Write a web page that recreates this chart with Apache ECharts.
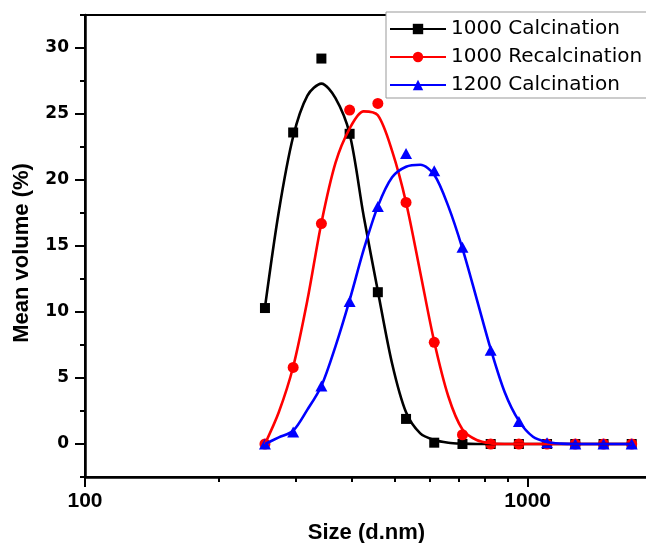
<!DOCTYPE html>
<html>
<head>
<meta charset="utf-8">
<script src="https://cdn.jsdelivr.net/npm/echarts@6/dist/echarts.min.js"></script>
<style>
html, body { margin: 0; padding: 0; background: #ffffff; }
#chart { width: 646px; height: 543px; }
</style>
</head>
<body>
<div id="chart"></div>
<script>
// ---- data ----
const seriesNames = ['1000 Calcination', '1000 Recalcination', '1200 Calcination'];

// measured size bins (d.nm)
const sizeBins = [255, 295.3, 342, 396.1, 458.7, 531.2, 615.1, 712.4, 825, 955.4, 1106, 1281, 1484, 1718];
const calc1000Points   = [10.3, 23.6, 29.2, 23.5, 11.5, 1.9, 0.1, 0, 0, 0, 0, 0, 0, 0];
const recalc1000Points = [0, 5.8, 16.7, 25.3, 25.8, 18.3, 7.7, 0.7, 0, 0, 0, 0, 0, 0];
const calc1200Points   = [0, 0.9, 4.4, 10.8, 18.0, 22.0, 20.7, 14.9, 7.1, 1.7, 0.1, 0, 0, 0];

// fitted curves, values
const fitSizes = [255, 274, 295.3, 318, 342, 368, 396.1, 426, 458.7, 494, 531.2, 572, 615.1, 662, 712.4, 767, 825, 888, 955.4, 1028, 1106, 1190, 1281, 1379, 1484, 1597, 1718];
const calc1000Fit   = [10.35, 17.6, 23.3, 26.4, 27.3, 26.2, 23.5, 17.3, 11.6, 6.1, 2.4, 0.8, 0.3, 0.1, 0.03, 0, 0, 0, 0, 0, 0, 0, 0, 0, 0, 0, 0];
const recalc1000Fit = [0, 2.4, 5.85, 10.9, 16.75, 21.3, 23.9, 25.2, 24.9, 22.2, 18.3, 13.0, 7.75, 3.6, 1.1, 0.3, 0.05, 0, 0, 0, 0, 0, 0, 0, 0, 0, 0];
const calc1200Fit   = [0, 0.5, 1.0, 2.6, 4.4, 7.4, 10.9, 14.7, 18.0, 20.2, 21.0, 21.15, 20.4, 18.0, 14.8, 11.0, 7.2, 3.9, 1.75, 0.55, 0.15, 0.03, 0, 0, 0, 0, 0];

// axis ticks
const xMajorTicks = [100, 1000];
const xMinorTicks = [200, 300, 400, 500, 600, 700, 800, 900];
const yMajorTicks = [0, 5, 10, 15, 20, 25, 30];
const yMinorTicks = [-2.5, 2.5, 7.5, 12.5, 17.5, 22.5, 27.5, 32.5];

// ---- styling ----
const colors = ['#000000', '#ff0000', '#0000ff'];
const symbols = ['rect', 'circle', 'triangle'];
const symbolSizes = [10, 11, [12, 11]];
const pointSets = [calc1000Points, recalc1000Points, calc1200Points];
const fitSets = [calc1000Fit, recalc1000Fit, calc1200Fit];

const labelBold = { fontFamily: 'Liberation Sans', fontWeight: 'bold', color: '#000' };

const series = [];
for (let k = 0; k < 3; k++) {
  series.push({
    type: 'line',
    name: seriesNames[k],
    data: fitSizes.map((x, i) => [x, fitSets[k][i]]),
    smooth: 0.3,
    showSymbol: false,
    symbol: symbols[k],
    symbolSize: symbolSizes[k],
    lineStyle: { color: colors[k], width: 2.6 },
    itemStyle: { color: colors[k] },
    silent: true,
    animation: false
  });
  series.push({
    type: 'scatter',
    name: seriesNames[k],
    data: sizeBins.map((x, i) => [x, pointSets[k][i]]),
    symbol: symbols[k],
    symbolSize: symbolSizes[k],
    itemStyle: { color: colors[k], opacity: 1 },
    animation: false
  });
}

const chart = echarts.init(document.getElementById('chart'), null, { renderer: 'canvas' });
chart.setOption({
  animation: false,
  backgroundColor: '#ffffff',
  grid: {
    left: 85, top: 15, right: -2, bottom: 66,
    outerBoundsMode: 'none', containLabel: false,
    show: true, borderColor: '#000', borderWidth: 2, backgroundColor: 'transparent'
  },
  legend: {
    data: seriesNames,
    orient: 'vertical',
    left: 386, top: 12,
    itemWidth: 56, itemHeight: 13, itemGap: 8,
    padding: [7, 20, 3, 3],
    backgroundColor: '#ffffff',
    borderColor: '#999999', borderWidth: 1, borderRadius: 0,
    textStyle: { fontFamily: 'DejaVu Sans', fontSize: 20, color: '#000', lineHeight: 20 },
    selectedMode: false
  },
  xAxis: [
    {
      type: 'log', logBase: 10, min: 100, max: 1870, position: 'bottom',
      axisLine: { show: true, onZero: false, lineStyle: { color: '#000', width: 2.5 } },
      axisTick: { show: true, customValues: xMajorTicks, length: 10, lineStyle: { color: '#000', width: 2 } },
      axisLabel: { customValues: xMajorTicks, margin: 14, fontSize: 21, ...labelBold,
                   formatter: v => String(Math.round(v)) },
      splitLine: { show: false },
      name: 'Size (d.nm)', nameLocation: 'middle', nameGap: 45,
      nameTextStyle: { fontSize: 22, ...labelBold }
    },
    {
      type: 'log', logBase: 10, min: 100, max: 1870, position: 'bottom',
      axisLine: { show: false, onZero: false },
      axisTick: { show: true, customValues: xMinorTicks, length: 5, lineStyle: { color: '#000', width: 2 } },
      axisLabel: { show: false },
      splitLine: { show: false }
    }
  ],
  yAxis: [
    {
      type: 'value', min: -2.5, max: 32.5, interval: 2.5, position: 'left',
      axisLine: { show: true, onZero: false, lineStyle: { color: '#000', width: 2.5 } },
      axisTick: { show: true, customValues: yMajorTicks, length: 10, lineStyle: { color: '#000', width: 2 } },
      axisLabel: { customValues: yMajorTicks, margin: 16, fontSize: 17, fontFamily: 'DejaVu Sans', fontWeight: 'bold', color: '#000' },
      splitLine: { show: false },
      name: 'Mean volume (%)', nameLocation: 'middle', nameGap: 52,
      nameTextStyle: { fontSize: 22, ...labelBold, padding: [0, 14, 0, 0] }
    },
    {
      type: 'value', min: -2.5, max: 32.5, interval: 2.5, position: 'left',
      axisLine: { show: false, onZero: false },
      axisTick: { show: true, customValues: yMinorTicks, length: 5, lineStyle: { color: '#000', width: 2 } },
      axisLabel: { show: false },
      splitLine: { show: false }
    }
  ],
  series: series
});
</script>
</body>
</html>
